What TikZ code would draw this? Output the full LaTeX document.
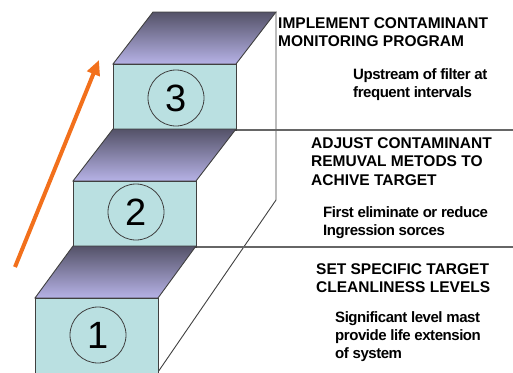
\documentclass[tikz,border=0pt]{standalone}
\usepackage{fontspec}
\setmainfont{Liberation Sans}
\newfontfamily\headfont{Liberation Sans Bold}
\newfontfamily\tightfont[LetterSpace=-3]{Liberation Sans Bold}
\usepackage{tikz}
\usetikzlibrary{arrows.meta,positioning}
\definecolor{stepfront}{RGB}{186,224,225}
\definecolor{stepdark}{RGB}{84,82,104}
\definecolor{steplight}{RGB}{182,178,230}
\definecolor{arrorange}{RGB}{242,112,28}
\begin{document}
\begin{tikzpicture}[x=1pt, y=-1pt,
  edge/.style={draw=black!75, line width=0.9pt},
  sep/.style={draw=black!60, line width=1.1pt},
  num/.style={circle, draw=black!75, line width=0.8pt, minimum size=56pt, inner sep=0pt, font=\fontsize{38}{38}\selectfont},
  head/.style={anchor=north west, align=left, inner sep=0pt, font=\fontsize{15.5}{18.5}\headfont},
  sub/.style={anchor=north west, align=left, inner sep=0pt, font=\fontsize{15}{18}\tightfont},
  arr/.style={-{Triangle[length=15pt, width=13pt]}, line width=4pt, arrorange}]
\useasboundingbox (0,0) rectangle (513,372);
% outline of the right side and the row lines
\coordinate (r0) at (276,12);
\coordinate (r1) at (276,200);
\coordinate (r2) at (158,372);
\draw[edge] (r0) -- (r1) -- (r2);
\coordinate (l3) at (236,130);
\coordinate (l3e) at (513,130);
\coordinate (l2) at (196,247);
\coordinate (l2e) at (513,247);
\draw[sep] (l3) -- (l3e);
\draw[sep] (l2) -- (l2e);
% the three steps
\foreach \x/\y/\d/\h/\cy/\n in {113/64/40/66/98/3, 73/181/40/66/212/2, 35/298/38/81/335/1} {
  \shade[top color=stepdark, bottom color=steplight] (\x,\y) -- (\x+\d,\y-52) -- (\x+\d+123,\y-52) -- (\x+123,\y) -- cycle;
  \draw[edge] (\x,\y) -- (\x+\d,\y-52) -- (\x+\d+123,\y-52) -- (\x+123,\y) -- cycle;
  \draw[edge, fill=stepfront] (\x,\y) rectangle (\x+123,\y+\h);
  \node[num] (c\n) at (\x+63,\cy) {\n};
}
% rising arrow
\coordinate (a0) at (15,267);
\coordinate (a1) at (99,60);
\draw[arr] (a0) -- (a1);
% texts
\node[head] (h3) at (278,17) {IMPLEMENT CONTAMINANT\\MONITORING PROGRAM};
\node[sub] (s3) at (353,68) {Upstream of filter at\\frequent intervals};
\node[head] (h2) at (311,137) {ADJUST CONTAMINANT\\REMUVAL METODS TO\\ACHIVE TARGET};
\node[sub] (s2) at (323,206) {First eliminate or reduce\\Ingression sorces};
\node[head] (h1) at (316,263) {SET SPECIFIC TARGET\\CLEANLINESS LEVELS};
\node[sub] (s1) at (335,311) {Significant level mast\\provide life extension\\of system};
\end{tikzpicture}
\end{document}
